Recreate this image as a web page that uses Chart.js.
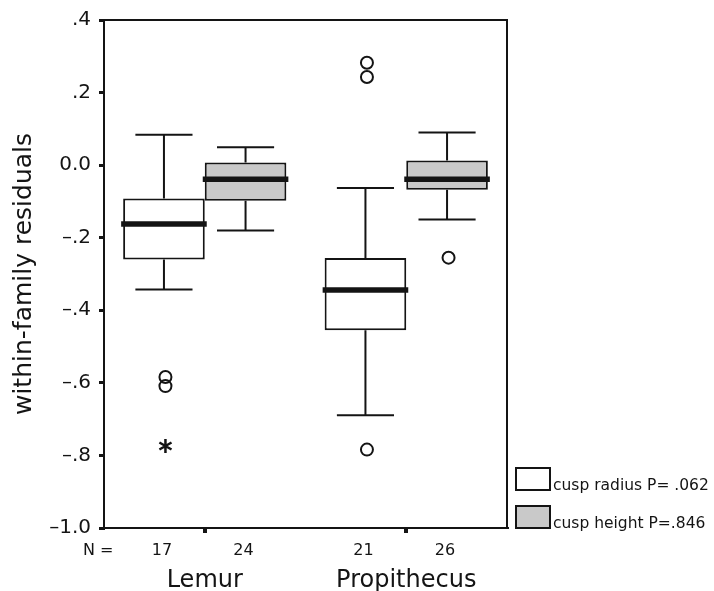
<!DOCTYPE html>
<html><head><meta charset="utf-8">
<script src="https://cdn.jsdelivr.net/npm/chart.js@4"></script>
<style>html,body{margin:0;padding:0;background:#fff;}#wrap{width:714px;height:591px;}</style>
</head><body><div id="wrap"><canvas id="c" width="714" height="591"></canvas></div>
<script>
// ---- data ----
const categories = ['Lemur', 'Propithecus'];
const seriesNames = ['cusp radius P= .062', 'cusp height P=.846'];
const radiusN = [17, 21];
const heightN = [24, 26];
const radiusQ1 = [-0.260, -0.455];
const radiusMedian = [-0.162, -0.344];
const radiusQ3 = [-0.092, -0.256];
const radiusWhiskerLo = [-0.343, -0.689];
const radiusWhiskerHi = [0.084, -0.063];
const radiusOutliers = [[-0.584, -0.609], [0.282, 0.243, -0.784]];
const radiusExtremes = [[-0.774], []];
const heightQ1 = [-0.098, -0.068];
const heightMedian = [-0.039, -0.039];
const heightQ3 = [0.007, 0.013];
const heightWhiskerLo = [-0.180, -0.150];
const heightWhiskerHi = [0.049, 0.090];
const heightOutliers = [[], [-0.255]];
const heightExtremes = [[], []];
const yTickValues = [0.4, 0.2, 0.0, -0.2, -0.4, -0.6, -0.8, -1.0];
const yTickLabels = ['.4', '.2', '0.0', '\u2013.2', '\u2013.4', '\u2013.6', '\u2013.8', '\u20131.0'];
const yTitle = 'within-family residuals';
const nPrefix = 'N =';

const FONT = "'DejaVu Sans', sans-serif";
const INK = '#141414';
const fills = ['#ffffff', '#c9c9c9'];

const stats = [
  {q1: radiusQ1, med: radiusMedian, q3: radiusQ3, lo: radiusWhiskerLo, hi: radiusWhiskerHi, out: radiusOutliers, ext: radiusExtremes, n: radiusN},
  {q1: heightQ1, med: heightMedian, q3: heightQ3, lo: heightWhiskerLo, hi: heightWhiskerHi, out: heightOutliers, ext: heightExtremes, n: heightN}
];

const boxExtras = {
  id: 'boxExtras',
  afterDatasetsDraw(chart) {
    const ctx = chart.ctx, ys = chart.scales.y, ca = chart.chartArea;
    ctx.save();
    // frame top/right
    ctx.strokeStyle = INK; ctx.lineWidth = 2;
    ctx.beginPath();
    ctx.moveTo(ca.left, ca.top); ctx.lineTo(ca.right, ca.top); ctx.lineTo(ca.right, ca.bottom);
    ctx.stroke();
    stats.forEach((s, d) => {
      const meta = chart.getDatasetMeta(d);
      meta.data.forEach((el, i) => {
        const cx = el.x, w = el.width;
        const cap = w * 0.35;
        ctx.strokeStyle = INK; ctx.lineWidth = 2;
        ctx.beginPath();
        ctx.moveTo(cx, ys.getPixelForValue(s.q3[i])); ctx.lineTo(cx, ys.getPixelForValue(s.hi[i]));
        ctx.moveTo(cx - cap, ys.getPixelForValue(s.hi[i])); ctx.lineTo(cx + cap, ys.getPixelForValue(s.hi[i]));
        ctx.moveTo(cx, ys.getPixelForValue(s.q1[i])); ctx.lineTo(cx, ys.getPixelForValue(s.lo[i]));
        ctx.moveTo(cx - cap, ys.getPixelForValue(s.lo[i])); ctx.lineTo(cx + cap, ys.getPixelForValue(s.lo[i]));
        ctx.stroke();
        // median
        ctx.lineWidth = 5.5;
        ctx.beginPath();
        const my = ys.getPixelForValue(s.med[i]);
        ctx.moveTo(cx - w / 2 - 2, my); ctx.lineTo(cx + w / 2 + 2, my);
        ctx.stroke();
        // outliers
        ctx.lineWidth = 2;
        s.out[i].forEach(v => {
          ctx.beginPath();
          ctx.arc(cx + 1.5, ys.getPixelForValue(v), 6, 0, Math.PI * 2);
          ctx.stroke();
        });
        // extremes (asterisk)
        ctx.lineWidth = 2.5;
        s.ext[i].forEach(v => {
          const py = ys.getPixelForValue(v), px = cx + 1.5, r = 7;
          ctx.beginPath();
          for (let k = 0; k < 3; k++) {
            const a = Math.PI / 2 + k * Math.PI / 3;
            ctx.moveTo(px - r * Math.cos(a), py - r * Math.sin(a));
            ctx.lineTo(px + r * Math.cos(a), py + r * Math.sin(a));
          }
          ctx.stroke();
        });
        // N labels
        ctx.fillStyle = INK; ctx.font = '16px ' + FONT;
        ctx.textAlign = 'center'; ctx.textBaseline = 'alphabetic';
        ctx.fillText(String(s.n[i]), cx - 2, 555);
      });
    });
    ctx.textAlign = 'left';
    ctx.font = '16px ' + FONT;
    ctx.fillText(nPrefix, 83, 555);
    // legend
    const lx = 516, lys = [468, 506];
    seriesNames.forEach((name, d) => {
      ctx.fillStyle = fills[d];
      ctx.fillRect(lx, lys[d], 34, 22);
      ctx.strokeStyle = INK; ctx.lineWidth = 2;
      ctx.strokeRect(lx, lys[d], 34, 22);
      ctx.fillStyle = INK;
      ctx.font = '15.5px ' + FONT;
      ctx.textBaseline = 'alphabetic';
      ctx.fillText(name, 553, lys[d] + 22);
    });
    ctx.restore();
  }
};

const datasets = stats.map((s, d) => ({
  label: seriesNames[d],
  data: categories.map((c, i) => [s.q1[i], s.q3[i]]),
  backgroundColor: fills[d],
  borderColor: INK,
  borderWidth: 2,
  borderSkipped: false,
  categoryPercentage: 0.81,
  barPercentage: 1.0
}));

new Chart(document.getElementById('c'), {
  type: 'bar',
  data: {labels: categories, datasets},
  options: {
    responsive: false,
    animation: false,
    devicePixelRatio: 1,
    layout: {padding: {top: 19, right: 207, left: 0, bottom: 0}},
    plugins: {legend: {display: false}, tooltip: {enabled: false}},
    scales: {
      x: {
        offset: true,
        grid: {display: true, drawOnChartArea: false, drawTicks: true, tickLength: 5, lineWidth: 4, color: INK, offset: false},
        border: {display: true, width: 2, color: INK},
        ticks: {font: {family: FONT, size: 24}, color: INK, padding: 33, maxRotation: 0, autoSkip: false},
        afterFit: s => { s.height = 63; }
      },
      y: {
        min: -1.0, max: 0.4,
        ticks: {
          stepSize: 0.2,
          font: {family: FONT, size: 20}, color: INK, padding: 8,
          callback: v => {
            const k = yTickValues.findIndex(t => Math.abs(t - v) < 1e-6);
            return k >= 0 ? yTickLabels[k] : '';
          }
        },
        grid: {display: true, drawOnChartArea: false, drawTicks: true, tickLength: 5, lineWidth: 3, color: INK},
        border: {display: true, width: 2, color: INK},
        title: {display: true, text: yTitle, font: {family: FONT, size: 25}, color: INK, padding: {top: 9, bottom: 0}},
        afterFit: s => { s.width = 104; }
      }
    }
  },
  plugins: [boxExtras]
});
</script>
</body></html>
